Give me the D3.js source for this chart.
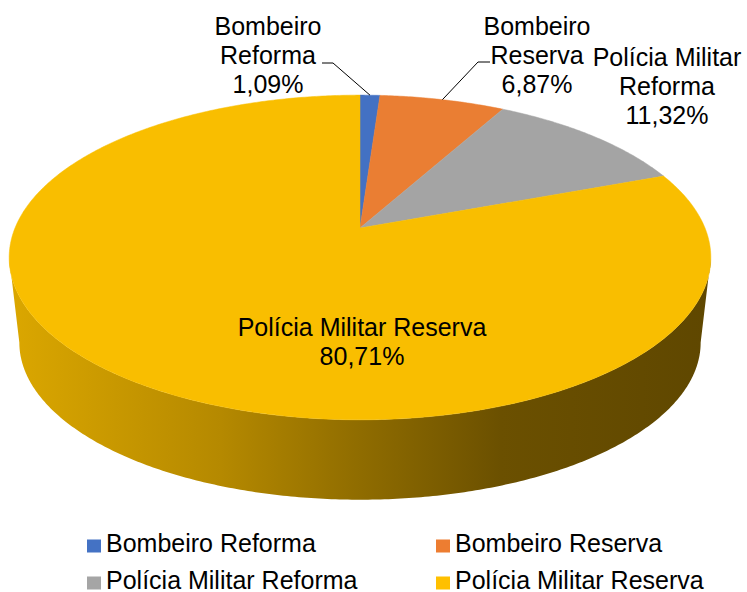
<!DOCTYPE html>
<html>
<head>
<meta charset="utf-8">
<script src="https://cdn.jsdelivr.net/npm/d3@7"></script>
<style>
  html, body { margin: 0; padding: 0; background: #fff; }
  svg { display: block; font-family: "Liberation Sans", Arial, sans-serif; }
</style>
</head>
<body>
<div id="chart"></div>
<script>
// data
var categories = ["Bombeiro Reforma", "Bombeiro Reserva", "Polícia Militar Reforma", "Polícia Militar Reserva"];
var values = [1.09, 6.87, 11.32, 80.71];
var pctLabels = ["1,09%", "6,87%", "11,32%", "80,71%"];
var labelLines = [["Bombeiro", "Reforma"], ["Bombeiro", "Reserva"], ["Polícia Militar", "Reforma"], ["Polícia Militar Reserva"]];
var colors = ["#4472C4", "#ED7D31", "#A5A5A5", "#FFC000"];
var topColors = ["#4371C3", "#EA7E33", "#A4A4A4", "#F9BE00"];

var width = 747, height = 592;

// perspective view of the pie
var cx = 360, cy = 228;
var k = 0.1815;       // perspective strength
var A = 345, B = 157; // top face radii
var Ab = 335, Bb = 152, depth = 86; // bottom face

// label layout (centre x, first baseline)
var labelPos = [[268, 35], [537, 35], [667, 66], [362, 336]];
var leaderStart = [[[322, 63], [333, 63]], [[490, 62], [478, 62]], null, null];

var svg = d3.select("#chart").append("svg")
  .attr("width", width)
  .attr("height", height);

function proj(a, bottom) {
  var u = Math.sin(a), v = -Math.cos(a);
  var w = 1 - k * v;
  if (bottom) return [cx + Ab * u / w, cy + depth + Bb * v / w];
  return [cx + A * u / w, cy + B * v / w];
}

function arcPoints(a0, a1, bottom) {
  var n = Math.max(2, Math.ceil(Math.abs(a1 - a0) / 0.01));
  return d3.range(n + 1).map(function (i) {
    return proj(a0 + (a1 - a0) * i / n, bottom);
  });
}

var line = d3.line();

var pie = d3.pie().sort(null).value(function (d) { return d; });
var arcs = pie(values);

// side shading
var defs = svg.append("defs");
var grad = defs.append("linearGradient")
  .attr("id", "side")
  .attr("gradientUnits", "userSpaceOnUse")
  .attr("x1", 10).attr("x2", 712).attr("y1", 0).attr("y2", 0);
[[0, "#dba700"], [0.3, "#b58900"], [0.5, "#8f6c00"], [0.7, "#6b5000"], [1, "#5f4700"]].forEach(function (s) {
  grad.append("stop").attr("offset", s[0]).attr("stop-color", s[1]);
});

// side wall (front half, between the silhouette extremes)
var aR = Math.acos(-k), aL = 2 * Math.PI - aR;
var sidePts = arcPoints(aR, aL, false).concat(arcPoints(aL, aR, true));
svg.append("path")
  .attr("d", line(sidePts) + "Z")
  .attr("fill", "url(#side)");

// top face slices
svg.append("g")
  .selectAll("path")
  .data(arcs)
  .enter()
  .append("path")
  .attr("d", function (d) {
    return line([[cx, cy]].concat(arcPoints(d.startAngle, d.endAngle, false))) + "Z";
  })
  .attr("fill", function (d, i) { return topColors[i]; })
  .attr("stroke", function (d, i) { return topColors[i]; })
  .attr("stroke-width", 0.5);

// leader lines
arcs.forEach(function (d, i) {
  if (!leaderStart[i]) return;
  var end = proj((d.startAngle + d.endAngle) / 2, false);
  svg.append("path")
    .attr("d", line(leaderStart[i].concat([end])))
    .attr("fill", "none")
    .attr("stroke", "#000")
    .attr("stroke-width", 1);
});

// data labels
var lh = 28.8;
arcs.forEach(function (d, i) {
  var t = svg.append("text")
    .attr("text-anchor", "middle")
    .attr("font-size", 25)
    .attr("fill", "#000");
  var lines = labelLines[i].concat([pctLabels[i]]);
  lines.forEach(function (s, j) {
    t.append("tspan")
      .attr("x", labelPos[i][0])
      .attr("y", labelPos[i][1] + j * lh)
      .text(s);
  });
});

// legend
var legX = [87, 436], legY = [552, 589];
var leg = svg.append("g")
  .selectAll("g")
  .data(categories)
  .enter()
  .append("g")
  .attr("transform", function (d, i) {
    return "translate(" + legX[i % 2] + "," + legY[Math.floor(i / 2)] + ")";
  });

leg.append("rect")
  .attr("x", 0)
  .attr("y", -12.5)
  .attr("width", 14)
  .attr("height", 13)
  .attr("fill", function (d, i) { return colors[i]; });

leg.append("text")
  .attr("x", 19)
  .attr("y", 0)
  .attr("font-size", 25)
  .attr("fill", "#000")
  .text(function (d) { return d; });
</script>
</body>
</html>
